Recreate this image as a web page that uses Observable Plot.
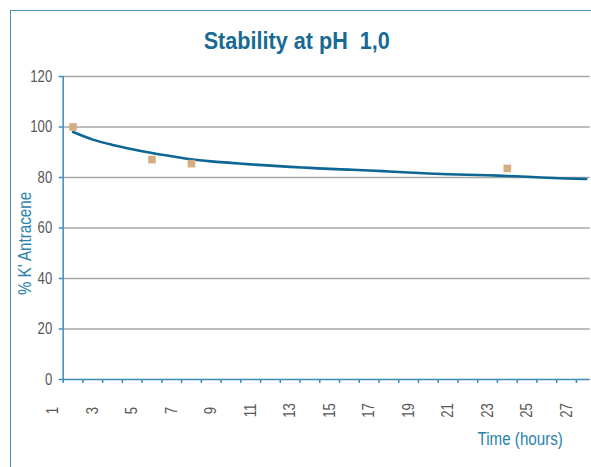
<!DOCTYPE html>
<html>
<head>
<meta charset="utf-8">
<script src="https://cdn.jsdelivr.net/npm/d3@7"></script>
<script src="https://cdn.jsdelivr.net/npm/@observablehq/plot@0.6"></script>
<style>
  html, body { margin: 0; padding: 0; background: #fff; }
  #wrap { position: relative; width: 591px; height: 467px; overflow: hidden; }
  #border { position: absolute; left: 10px; top: 10px; width: 700px; height: 600px;
            border-left: 1px solid #4a93b8; border-top: 1px solid #4a93b8; }
  #chart { position: absolute; left: 0; top: 0; }
</style>
</head>
<body>
<div id="wrap"><div id="border"></div><div id="chart"></div></div>
<script>
const fitHours = [2,3,4,5,6,7,8,9,10,11,12,13,14,15,16,17,18,19,20,21,22,23,24,25,26,27,28];
const fitValues = [98.0,95.0,92.9,91.2,89.7,88.4,87.2,86.4,85.8,85.2,84.7,84.2,83.8,83.4,83.1,82.8,82.4,82.0,81.6,81.3,81.1,80.9,80.6,80.3,79.9,79.6,79.4];
const measuredHours = [2, 6, 8, 24];
const measuredValues = [100, 87.1, 85.5, 83.6];
const yTicks = [0, 20, 40, 60, 80, 100, 120];
const xTickLabels = [1,3,5,7,9,11,13,15,17,19,21,23,25,27];
const xTickMarks = d3.range(1.5, 28, 1);
const titleText = "Stability at pH\u00a0 1,0";
const yTitle = "% K' Antracene";
const xTitle = "Time (hours)";

const axisColor = "#3a8cb6";
const gridColor = "#a8a8a8";
const labelGray = "#595959";
const lineColor = "#0d6694";
const dotColor = "#d4ad80";
const titleColor = "#176a93";
const titleBlue = "#2a82ad";
const font = "'Liberation Sans',Arial,sans-serif";

const chart = Plot.plot({
  width: 591,
  height: 467,
  marginLeft: 52.8,
  marginRight: 1.3,
  marginTop: 76,
  marginBottom: 88,
  x: {domain: [1, 28.2], axis: null},
  y: {domain: [0, 120], axis: null},
  style: {background: "transparent", fontFamily: font},
  marks: [
    Plot.ruleY(yTicks.filter(d => d > 0), {x1: 1.5, x2: 28.2, stroke: gridColor, strokeWidth: 1.3}),
    Plot.line(fitHours.map((h, i) => ({h, v: fitValues[i]})), {x: "h", y: "v", stroke: lineColor, strokeWidth: 2.6, curve: "monotone-x"}),
    Plot.dot(measuredHours.map((h, i) => ({h, v: measuredValues[i]})), {x: "h", y: "v", symbol: "square", r: 4.3, fill: dotColor, stroke: "none"}),
    Plot.ruleX([1.5], {y1: 0, y2: 120, stroke: axisColor, strokeWidth: 1.5}),
    Plot.ruleY([0], {x1: 1.5, x2: 28.2, stroke: axisColor, strokeWidth: 1.5}),
    Plot.axisY({ticks: yTicks, label: null, tickSize: 4, dx: 9.9, tickPadding: 7, stroke: axisColor, strokeWidth: 1.5, fill: labelGray, fontSize: 16, tickFormat: d => String(d), className: "narrow"}),
    Plot.axisX({ticks: xTickMarks, label: null, tickSize: 4, tickFormat: () => "", stroke: axisColor, strokeWidth: 1.5}),
    Plot.text(xTickLabels, {x: d => d, frameAnchor: "bottom", lineAnchor: "middle", dy: 31, rotate: -90, textAnchor: "middle", fontSize: 16, fill: labelGray, text: d => String(d), className: "narrow"}),
    Plot.text([titleText], {frameAnchor: "top", lineAnchor: "middle", dx: -25, dy: -34.5, fontSize: 23, fontWeight: "bold", fill: titleColor, className: "semi"}),
    Plot.text([yTitle], {frameAnchor: "left", lineAnchor: "middle", dx: -28.3, dy: 15.5, rotate: -90, textAnchor: "middle", fontSize: 18.5, fill: titleBlue, className: "narrow"}),
    Plot.text([xTitle], {frameAnchor: "bottom-right", lineAnchor: "middle", dx: -70, dy: 59.5, textAnchor: "middle", fontSize: 18.5, fill: titleBlue, className: "narrow"})
  ]
});

// Condensed look of the original typeface: squeeze glyphs along the text direction.
function squeeze(selector, sx) {
  chart.querySelectorAll(selector + " text").forEach(t => {
    let tr = t.getAttribute("transform");
    if (!tr) {
      const x = t.getAttribute("x") || 0, y = t.getAttribute("y") || 0;
      t.removeAttribute("x"); t.removeAttribute("y");
      tr = `translate(${x},${y})`;
    }
    t.setAttribute("transform", `${tr} scale(${sx},1)`);
  });
}
squeeze(".narrow", 0.82);
squeeze(".semi", 0.94);
document.getElementById("chart").appendChild(chart);
</script>
</body>
</html>
